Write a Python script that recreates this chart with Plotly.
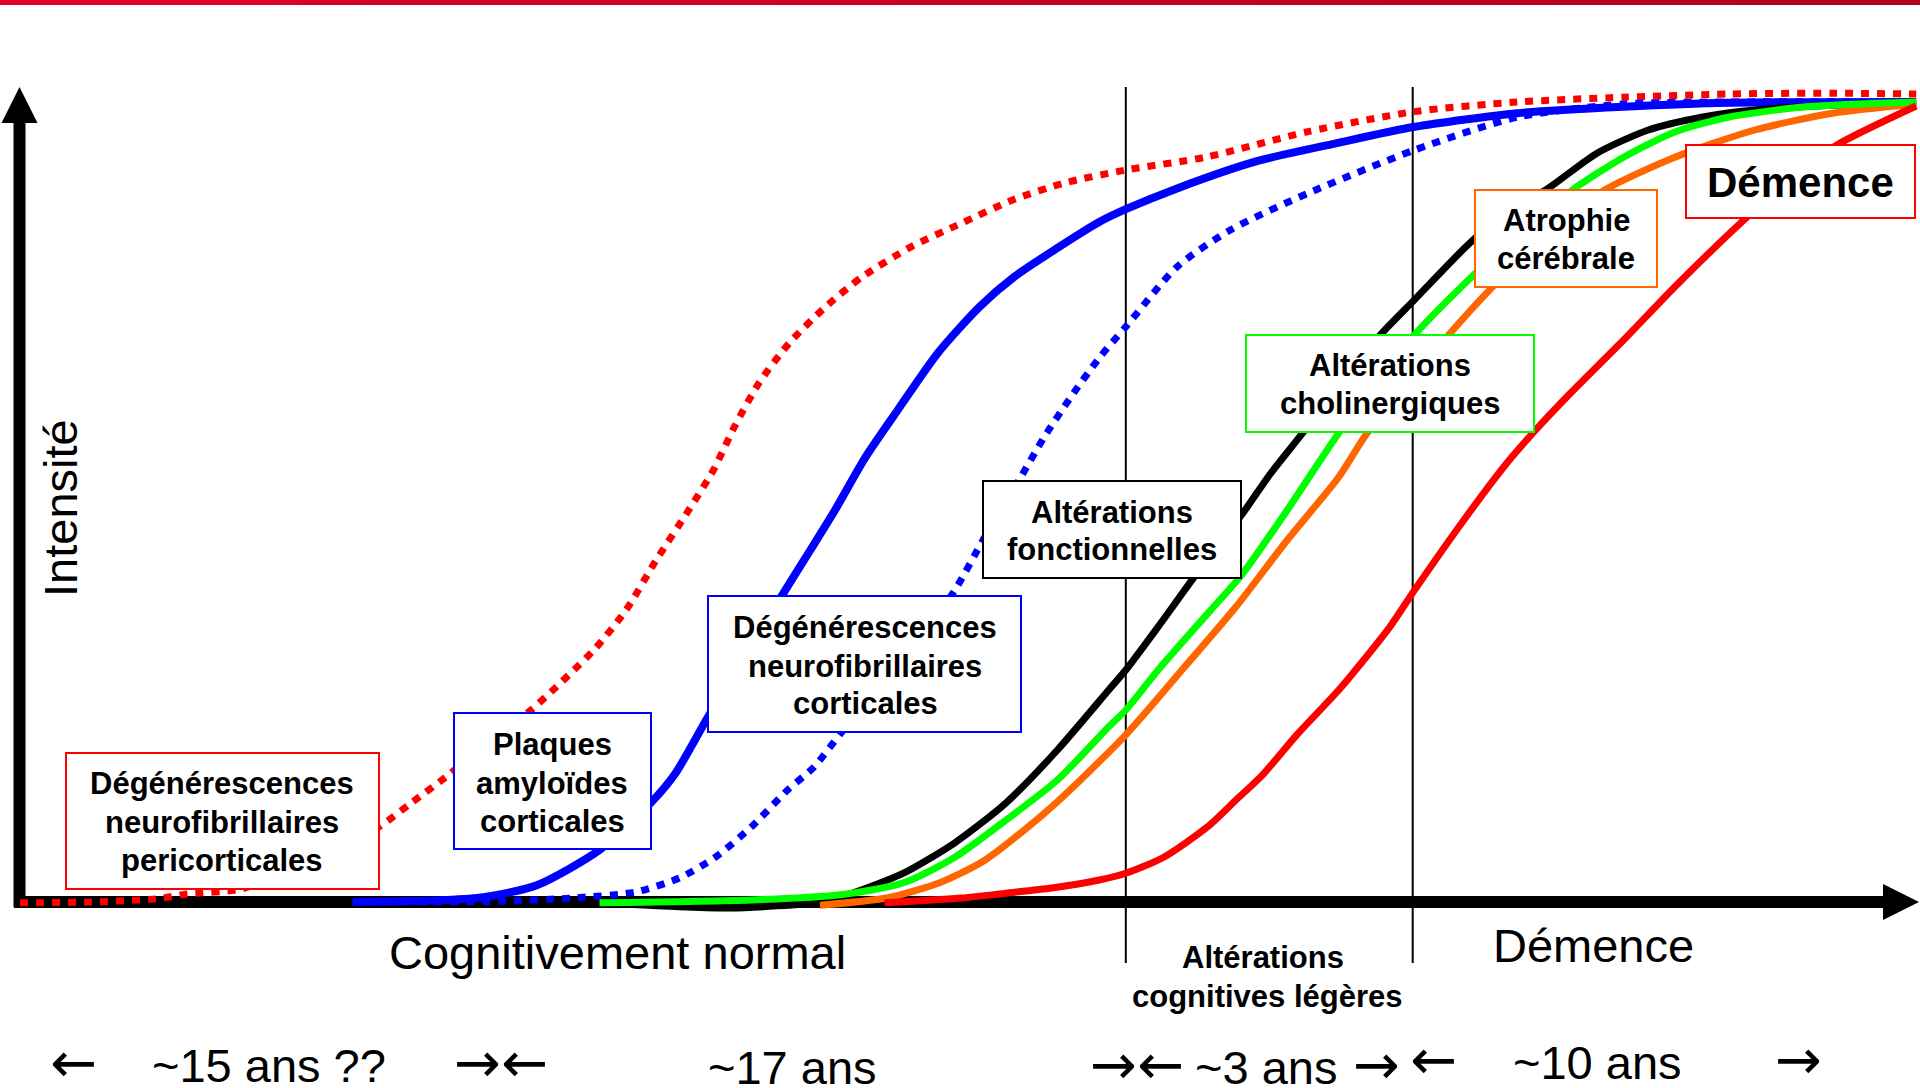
import plotly.graph_objects as go

# ---------------- data (time: 0-100 arbitrary units, intensity: 0-100) ----------------
t_dnf_peri = [0, 3.7, 7.2, 8.8, 11.6, 14.7, 16.8, 18.9, 20.6, 22.4, 24.7, 26.9, 30.2, 31.9, 33.5, 35.2,
              36.5, 37.6, 38.9, 40.5, 42.4, 44.3, 46.9, 49.6, 52.3, 55.0, 58.2, 62.4, 67.8, 73.4,
              78.8, 84.4, 89.9, 95.4, 99.8]
i_dnf_peri = [-0.1, 0, 0.4, 1.0, 1.6, 4.5, 6.8, 9.4, 12.4, 15.6, 20.0, 24.0, 31.5, 36.5, 42.8, 49.0,
              54.0, 59.4, 64.9, 69.9, 74.4, 78.1, 81.9, 84.9, 87.8, 89.9, 91.5, 93.1, 96.3, 98.8,
              100.0, 100.6, 101.0, 101.1, 101.0]

t_plaques = [17.5, 22.4, 24.4, 27.2, 30.5, 33.2, 34.5, 36.2, 38.2, 40.1, 41.6, 42.9, 44.5, 46.2, 48.3,
             50.5, 52.3, 54.5, 56.8, 58.2, 60.9, 65.1, 69.2, 73.4, 78.8, 84.4, 89.9, 99.8]
i_plaques = [0, 0.25, 0.6, 2.1, 6.5, 12.4, 16.1, 23.1, 30.9, 38.3, 44.0, 49.0, 55.6, 61.5, 68.6,
             74.4, 78.1, 81.6, 85.0, 86.6, 89.2, 92.6, 94.8, 96.9, 98.6, 99.4, 99.9, 100.0]

t_dnf_cort = [20.1, 25.3, 29.1, 32.4, 34.7, 36.6, 38.5, 40.4, 41.8, 43.2, 46.2, 49.1, 50.7, 52.6, 53.9,
              55.3, 56.8, 58.2, 60.9, 63.7, 67.8, 73.4, 78.8, 84.4, 89.9, 99.8]
i_dnf_cort = [0, 0.1, 0.5, 1.25, 3.0, 5.6, 9.4, 14.0, 16.9, 21.1, 29.6, 38.6, 45.3, 52.8, 58.1,
              63.1, 68.0, 71.9, 79.4, 84.0, 88.6, 94.0, 98.1, 99.75, 100, 100]

t_fonct = [30.5, 37.3, 42.1, 43.8, 46.5, 49.2, 51.9, 54.6, 57.3, 58.2, 59.9, 61.7, 64.3, 65.8, 67.5,
           69.5, 71.6, 73.4, 76.1, 78.2, 80.3, 83.0, 85.7, 88.5, 91.3, 95.4, 99.8]
i_fonct = [-0.1, -0.75, 0, 1.1, 3.6, 7.4, 12.4, 19.0, 26.5, 29.0, 34.4, 40.3, 48.4, 53.5, 58.6,
           65.0, 70.9, 75.3, 81.9, 86.3, 89.0, 93.6, 96.5, 98.1, 99.0, 99.6, 100]

t_atrophie = [42.1, 45.6, 48.4, 50.8, 54.3, 58.2, 61.3, 64.0, 66.7, 69.4, 70.9, 73.1, 75.2, 77.5, 80.4,
              83.4, 87.1, 91.3, 95.4, 99.8]
i_atrophie = [-0.4, 0.5, 2.4, 5.25, 11.9, 20.9, 29.4, 36.9, 45.25, 53.1, 58.6, 64.75, 70.9, 76.9, 83.75,
              89.0, 93.1, 96.5, 98.6, 99.75]

t_cholin = [30.5, 38.5, 43.2, 46.5, 49.2, 51.9, 54.6, 57.3, 58.2, 59.9, 62.6, 64.3, 66.7, 69.4, 71.4,
            73.4, 76.6, 79.2, 81.7, 84.4, 87.1, 89.9, 94.0, 99.8]
i_cholin = [-0.1, 0.25, 0.9, 2.4, 5.6, 10.25, 15.25, 21.9, 24.0, 29.0, 36.3, 40.9, 49.0, 58.6, 64.75,
            70.9, 78.6, 84.25, 89.0, 93.1, 96.25, 98.1, 99.4, 100]

t_demence = [45.5, 49.6, 51.9, 54.3, 56.8, 58.2, 60.2, 62.5, 64.0, 65.4, 67.2, 69.5, 72.1, 73.4, 76.1,
             78.3, 80.0, 81.6, 84.4, 87.1, 89.9, 93.2, 95.6, 99.8]
i_demence = [-0.1, 0.5, 1.1, 1.75, 2.75, 3.6, 5.6, 9.4, 12.75, 15.9, 20.9, 26.75, 34.4, 39.0, 48.1,
             55.0, 59.6, 63.6, 70.25, 76.9, 83.4, 90.5, 94.6, 99.5]

stage_bounds = [58.2, 73.3]          # MCI start, dementia start (time units)

box_labels = [
    ["Dégénérescences", "neurofibrillaires", "pericorticales"],
    ["Plaques", "amyloïdes", "corticales"],
    ["Dégénérescences", "neurofibrillaires", "corticales"],
    ["Altérations", "fonctionnelles"],
    ["Altérations", "cholinergiques"],
    ["Atrophie", "cérébrale"],
    ["Démence"],
]
stage_labels = ["Cognitivement normal", "Altérations<br>cognitives légères", "Démence"]
duration_labels = ["~15 ans ??", "~17 ans", "~3 ans", "~10 ans"]
y_title = "Intensité"

# ---------------- layout helpers (page pixels -> data units) ----------------
W, H = 1920, 1088
def X(px):
    return (px - 20) / 19.0
def Y(py):
    return (902 - py) / 8.0

RED, BLUE, GREEN, ORANGE, BLACK = "#ff0000", "#0000ff", "#00ff00", "#ff6600", "#000000"
FONT = "Liberation Sans, Arial, sans-serif"
ARROW_FONT = "DejaVu Sans, sans-serif"

fig = go.Figure()

# top red band
n = 64
fig.add_trace(go.Heatmap(
    z=[[k / (n - 1) for k in range(n)]],
    x=[X(W * k / n) for k in range(n + 1)],
    y=[Y(5), Y(0)],
    colorscale=[[0, "#e0002b"], [1, "#b0001e"]],
    showscale=False, hoverinfo="skip", zsmooth=False))

curves = [
    (t_dnf_peri, i_dnf_peri, RED, 7, "8px,8px"),
    (t_plaques, i_plaques, BLUE, 8, "solid"),
    (t_dnf_cort, i_dnf_cort, BLUE, 7, "8px,8px"),
    (t_fonct, i_fonct, BLACK, 7, "solid"),
    (t_atrophie, i_atrophie, ORANGE, 7, "solid"),
    (t_cholin, i_cholin, GREEN, 7, "solid"),
    (t_demence, i_demence, RED, 7, "solid"),
]
for tx, iy, col, w, dash in curves:
    fig.add_trace(go.Scatter(x=tx, y=iy, mode="lines", line=dict(color=col, width=w, dash=dash,
                             shape="spline", smoothing=0.7), hoverinfo="skip", showlegend=False))

shapes = []
# axes (below curves)
shapes.append(dict(type="line", x0=X(19.5), x1=X(19.5), y0=Y(907), y1=Y(120), line=dict(color=BLACK, width=12), layer="below"))
shapes.append(dict(type="path", path=f"M {X(1.5)},{Y(123)} L {X(19.5)},{Y(87)} L {X(37.5)},{Y(123)} Z",
                   fillcolor=BLACK, line=dict(color=BLACK, width=0), layer="below"))
shapes.append(dict(type="line", x0=X(14), x1=X(1886), y0=Y(902), y1=Y(902), line=dict(color=BLACK, width=12), layer="below"))
shapes.append(dict(type="path", path=f"M {X(1883)},{Y(884)} L {X(1919)},{Y(902)} L {X(1883)},{Y(920)} Z",
                   fillcolor=BLACK, line=dict(color=BLACK, width=0), layer="below"))
# stage boundaries
for b in stage_bounds:
    shapes.append(dict(type="line", x0=b, x1=b, y0=Y(963), y1=Y(87), line=dict(color=BLACK, width=2), layer="below"))

# label boxes: (x0, y0, x1, y1) in page px, border colour
boxes = [
    ((66, 753, 379, 889), RED),
    ((454, 713, 651, 849), BLUE),
    ((708, 596, 1021, 732), BLUE),
    ((983, 481, 1241, 578), BLACK),
    ((1246, 335, 1534, 432), GREEN),
    ((1475, 190, 1657, 287), ORANGE),
    ((1686, 145, 1915, 218), RED),
]
for (x0, y0, x1, y1), col in boxes:
    shapes.append(dict(type="rect", x0=X(x0), x1=X(x1), y0=Y(y1), y1=Y(y0),
                       fillcolor="white", line=dict(color=col, width=2), layer="above"))

annotations = []
def txt(text, px, py, size, bold=False, angle=0, family=FONT):
    annotations.append(dict(
        text=f"<b>{text}</b>" if bold else text, x=X(px), y=Y(py), xref="x", yref="y",
        showarrow=False, xanchor="center", yanchor="middle", textangle=angle,
        font=dict(family=family, size=size, color=BLACK)))

line_pos = [
    (222, [783, 822, 860]),
    (552, [744, 783, 821]),
    (865, [627, 666, 703]),
    (1112, [512, 549]),
    (1390, [365, 403]),
    (1566, [220, 258]),
    (1800, [182]),
]
for lines, (cx, ys) in zip(box_labels, line_pos):
    size = 42 if len(lines) == 1 else 31
    for s, yy in zip(lines, ys):
        txt(s, cx, yy, size, bold=True)

# stage labels under the axis
txt(stage_labels[0], 617, 952, 47)
l1, l2 = stage_labels[1].split("<br>")
txt(l1, 1263, 957, 31, bold=True)
txt(l2, 1267, 996, 31, bold=True)
txt(stage_labels[2], 1593, 945, 47)

# durations row
AS = 56
txt("←", 73, 1062, AS, family=ARROW_FONT)
txt(duration_labels[0], 269, 1065, 47)
txt("→←", 501, 1062, AS, family=ARROW_FONT)
txt(duration_labels[1], 792, 1067, 47)
txt("→←", 1137, 1064, AS, family=ARROW_FONT)
txt(duration_labels[2], 1266, 1067, 47)
txt("→", 1376, 1064, AS, family=ARROW_FONT)
txt("←", 1433, 1059, AS, family=ARROW_FONT)
txt(duration_labels[3], 1597, 1062, 47)
txt("→", 1798, 1059, AS, family=ARROW_FONT)

# y-axis title
txt(y_title, 60, 508, 47, angle=-90)

fig.update_layout(
    width=W, height=H, margin=dict(l=0, r=0, t=0, b=0, pad=0),
    paper_bgcolor="white", plot_bgcolor="white", showlegend=False,
    xaxis=dict(range=[X(0), X(W)], visible=False, fixedrange=True),
    yaxis=dict(range=[Y(H), Y(0)], visible=False, fixedrange=True),
    shapes=shapes, annotations=annotations,
)
fig.write_html("out.html", config={"displayModeBar": False},
               post_script="document.body.style.margin='0';document.body.style.overflow='hidden';")
